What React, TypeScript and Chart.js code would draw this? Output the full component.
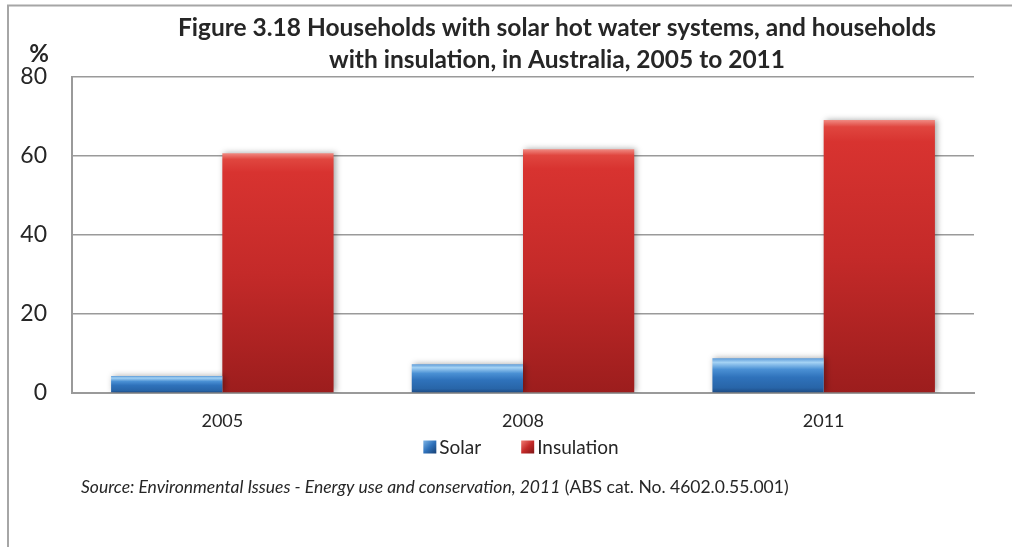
import React, { useEffect, useRef } from "react";
import { Chart, registerables } from "chart.js";

Chart.register(...registerables);

const years = ["2005", "2008", "2011"];
const solar = [4.3, 7.3, 8.8];
const insulation = [60.7, 61.7, 69.1];
const seriesNames = ["Solar", "Insulation"];
const titleLines = [
  "Figure 3.18 Households with solar hot water systems, and households",
  "with insulation, in Australia, 2005 to 2011",
];
const sourceItalic = "Source: Environmental Issues - Energy use and conservation, 2011";
const sourceRegular = " (ABS cat. No. 4602.0.55.001)";
const yUnit = "%";

const FONT = "Lato, 'Open Sans', sans-serif";
const TEXT = "#262626";
const GRID = "#9a9a9a";

function barGradient(ctx: CanvasRenderingContext2D, top: number, bottom: number, kind: number) {
  const g = ctx.createLinearGradient(0, top, 0, bottom);
  if (kind === 0) {
    g.addColorStop(0, "#5d9bd8");
    g.addColorStop(0.12, "#a4d2f4");
    g.addColorStop(0.32, "#4a90d4");
    g.addColorStop(0.55, "#2f72bb");
    g.addColorStop(0.85, "#2865a8");
    g.addColorStop(1, "#1b4880");
  } else {
    g.addColorStop(0, "#f08a82");
    g.addColorStop(0.025, "#e0463f");
    g.addColorStop(0.08, "#d83330");
    g.addColorStop(0.5, "#c42a29");
    g.addColorStop(1, "#9c1d1d");
  }
  return g;
}

function scriptBg(kind: number) {
  return (c: any) => {
    const chart = c.chart;
    const y = chart.scales && chart.scales.y;
    if (!y || c.raw === undefined) return kind === 0 ? "#2f72bb" : "#c42a29";
    const top = y.getPixelForValue(c.raw);
    const bottom = y.getPixelForValue(0);
    if (!isFinite(top) || !isFinite(bottom) || bottom - top < 1) return kind === 0 ? "#2f72bb" : "#c42a29";
    return barGradient(chart.ctx, top, bottom, kind);
  };
}

const decorPlugin = {
  id: "decor",
  beforeDraw(chart: any) {
    const ctx = chart.ctx as CanvasRenderingContext2D;
    ctx.save();
    ctx.fillStyle = "#ffffff";
    ctx.fillRect(0, 0, chart.width, chart.height);
    ctx.strokeStyle = "#a6a6a6";
    ctx.lineWidth = 2;
    ctx.beginPath();
    ctx.moveTo(8, chart.height + 5);
    ctx.lineTo(8, 5.5);
    ctx.lineTo(chart.width + 5, 5.5);
    ctx.stroke();
    ctx.restore();
  },
  beforeDatasetDraw(chart: any) {
    const ctx = chart.ctx as CanvasRenderingContext2D;
    ctx.save();
    ctx.shadowColor = "rgba(0,0,0,0.35)";
    ctx.shadowBlur = 6;
    ctx.shadowOffsetX = 2;
    ctx.shadowOffsetY = 0;
  },
  afterDatasetDraw(chart: any) {
    chart.ctx.restore();
  },
  afterDraw(chart: any) {
    const ctx = chart.ctx as CanvasRenderingContext2D;
    const area = chart.chartArea;
    ctx.save();
    ctx.fillStyle = TEXT;
    ctx.textBaseline = "middle";

    // title
    ctx.font = `bold 24.5px ${FONT}`;
    ctx.textAlign = "center";
    ctx.fillText(titleLines[0], 557, 28);
    ctx.fillText(titleLines[1], 557, 60);

    // unit
    ctx.font = `bold 24px ${FONT}`;
    ctx.fillText(yUnit, 39, 54);

    // legend
    ctx.font = `19px ${FONT}`;
    ctx.textAlign = "left";
    const sq = 13;
    const gap = 3;
    const spacing = 40;
    const widths = seriesNames.map((n) => ctx.measureText(n).width);
    const total = widths.reduce((a, w) => a + sq + gap + w, 0) + spacing * (seriesNames.length - 1);
    let x = (area.left + area.right) / 2 - total / 2 - 2;
    const ly = 447;
    seriesNames.forEach((n, i) => {
      const g = ctx.createLinearGradient(x, ly - sq / 2, x + sq, ly + sq / 2);
      if (i === 0) {
        g.addColorStop(0, "#7db4e6");
        g.addColorStop(0.5, "#2f72bb");
        g.addColorStop(1, "#173f72");
      } else {
        g.addColorStop(0, "#f07a72");
        g.addColorStop(0.5, "#c42a29");
        g.addColorStop(1, "#7e1515");
      }
      ctx.fillStyle = g;
      ctx.fillRect(x, ly - sq / 2, sq, sq);
      ctx.fillStyle = TEXT;
      ctx.fillText(n, x + sq + gap, ly + 1);
      x += sq + gap + widths[i] + spacing;
    });

    // source
    ctx.font = `italic 17.5px ${FONT}`;
    const sx = 81;
    const sy = 487;
    ctx.fillText(sourceItalic, sx, sy);
    const iw = ctx.measureText(sourceItalic).width;
    ctx.font = `17.5px ${FONT}`;
    ctx.fillText(sourceRegular, sx + iw, sy);
    ctx.restore();
  },
};

export default function App() {
  const ref = useRef<HTMLCanvasElement | null>(null);

  useEffect(() => {
    document.body.style.margin = "0";
    const canvas = ref.current;
    if (!canvas) return;
    const chart = new Chart(canvas, {
      type: "bar",
      data: {
        labels: years,
        datasets: [
          {
            label: seriesNames[0],
            data: solar,
            backgroundColor: scriptBg(0),
            borderWidth: 0,
            categoryPercentage: 0.74,
            barPercentage: 1.0,
          },
          {
            label: seriesNames[1],
            data: insulation,
            backgroundColor: scriptBg(1),
            borderWidth: 0,
            categoryPercentage: 0.74,
            barPercentage: 1.0,
          },
        ],
      },
      options: {
        responsive: false,
        animation: false,
        devicePixelRatio: 1,
        layout: { padding: { left: 0, right: 38, top: 77, bottom: 114 } },
        plugins: {
          legend: { display: false },
          title: { display: false },
          tooltip: { enabled: false },
        },
        scales: {
          x: {
            grid: { display: false, drawTicks: false },
            border: { display: true, color: GRID, width: 2 },
            ticks: { color: TEXT, font: { family: FONT, size: 18 }, padding: 17 },
            afterFit: (s: any) => {
              s.height = 40;
            },
          },
          y: {
            min: 0,
            max: 80,
            ticks: { stepSize: 20, color: TEXT, font: { family: FONT, size: 23 }, padding: 25 },
            grid: { color: GRID, lineWidth: 1.5, drawTicks: false },
            border: { display: true, color: GRID, width: 2 },
            afterFit: (s: any) => {
              s.width = 72;
            },
          },
        },
      },
      plugins: [decorPlugin],
    });
    return () => chart.destroy();
  }, []);

  return <canvas ref={ref} width={1012} height={547} style={{ display: "block" }} />;
}
